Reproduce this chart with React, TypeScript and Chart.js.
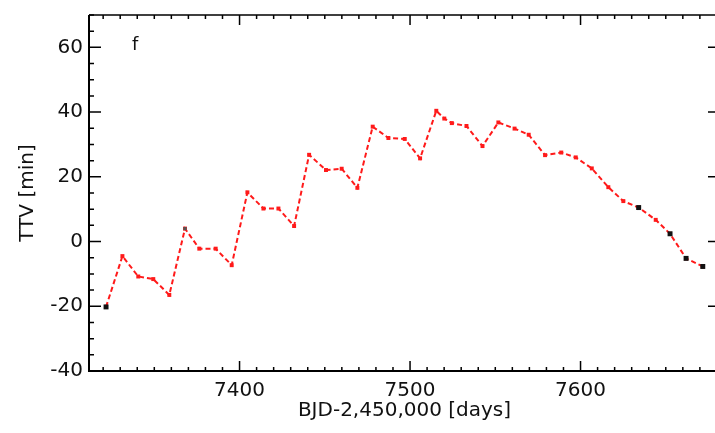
import React, { useEffect, useRef } from "react";
import { Chart, registerables } from "chart.js";

Chart.register(...registerables);

// ---- data ----
const modelDays = [
  7321.7, 7331.3, 7340.6, 7349.4, 7358.8, 7368.0, 7376.4, 7386.0, 7395.4,
  7404.6, 7414.0, 7422.8, 7432.0, 7440.8, 7450.7, 7459.9, 7469.1, 7478.1,
  7487.3, 7496.9, 7505.9, 7515.4, 7520.1, 7524.5, 7533.1, 7542.5, 7551.8,
  7561.3, 7569.6, 7579.2, 7588.7, 7597.2, 7606.6, 7616.3, 7625.1, 7634.1,
  7644.1, 7652.5, 7661.9, 7671.7,
];
const modelTtv = [
  -20.2, -4.5, -10.8, -11.6, -16.5, 4.0, -2.2, -2.2, -7.3,
  15.2, 10.2, 10.2, 4.8, 26.8, 22.1, 22.5, 16.6, 35.5,
  32.0, 31.7, 25.7, 40.4, 38.0, 36.6, 35.7, 29.5, 36.8,
  34.9, 33.0, 26.7, 27.5, 26.0, 22.6, 16.8, 12.5, 10.5,
  6.7, 2.4, -5.2, -7.7,
];
const obsDays = [7321.7, 7368.0, 7634.1, 7652.5, 7661.9, 7671.7];
const obsTtv = [-20.2, 4.0, 10.5, 2.4, -5.2, -7.7];

const xTickValues = [7400, 7500, 7600];
const yTickValues = [-40, -20, 0, 20, 40, 60];
const xMin = 7311.7;
const xMax = 7681.8;
const yMin = -40;
const yMax = 70;
const xTitle = "BJD-2,450,000 [days]";
const yTitle = "TTV [min]";
const panelLabel = "f";

const FONT = "'DejaVu Sans', 'Liberation Sans', Arial, sans-serif";

const framePlugin = {
  id: "idlFrame",
  afterDraw(chart: any) {
    const { ctx, chartArea } = chart;
    const { left, right, top, bottom } = chartArea;
    const xs = chart.scales.x;
    const ys = chart.scales.y;
    ctx.save();
    ctx.strokeStyle = "#000";
    ctx.lineCap = "butt";
    ctx.lineWidth = 1.5;
    for (let v = Math.ceil(xMin / 10) * 10; v <= xMax; v += 10) {
      const px = xs.getPixelForValue(v);
      const major = v % 100 === 0;
      const len = major ? 10 : 4;
      ctx.beginPath();
      ctx.moveTo(px, bottom);
      ctx.lineTo(px, bottom - len);
      ctx.moveTo(px, top);
      ctx.lineTo(px, top + len);
      ctx.stroke();
    }
    for (let v = Math.ceil(yMin / 5) * 5; v <= yMax; v += 5) {
      const py = ys.getPixelForValue(v);
      const major = v % 20 === 0;
      const len = major ? 12 : 5;
      ctx.beginPath();
      ctx.moveTo(left, py);
      ctx.lineTo(left + len, py);
      ctx.moveTo(right, py);
      ctx.lineTo(right - len, py);
      ctx.stroke();
    }
    ctx.lineWidth = 2;
    ctx.beginPath();
    ctx.moveTo(left, top);
    ctx.lineTo(left, bottom);
    ctx.lineTo(right, bottom);
    ctx.stroke();
    ctx.lineWidth = 1.5;
    ctx.beginPath();
    ctx.moveTo(left, top);
    ctx.lineTo(right, top);
    ctx.lineTo(right, bottom);
    ctx.stroke();
    ctx.fillStyle = "#111";
    ctx.font = `18px ${FONT}`;
    ctx.textAlign = "left";
    ctx.textBaseline = "alphabetic";
    ctx.fillText(panelLabel, left + 43, top + 35);
    ctx.restore();
  },
};

export default function App() {
  const ref = useRef<HTMLCanvasElement | null>(null);

  useEffect(() => {
    if (!ref.current) return;
    const chart = new Chart(ref.current, {
      type: "scatter",
      data: {
        datasets: [
          {
            label: "model",
            data: modelDays.map((d, i) => ({ x: d, y: modelTtv[i] })),
            showLine: true,
            borderColor: "#ff1a1a",
            borderWidth: 2,
            borderDash: [5, 3],
            pointStyle: "rect",
            pointRadius: 2.8,
            pointBackgroundColor: "#ff1a1a",
            pointBorderWidth: 0,
            order: 2,
          },
          {
            label: "observed",
            data: obsDays.map((d, i) => ({ x: d, y: obsTtv[i] })),
            showLine: false,
            pointStyle: "rect",
            pointRadius: (c: any) => (c.dataIndex === 1 ? 2.3 : 3.5),
            pointBackgroundColor: (c: any) => (c.dataIndex === 1 ? "#555" : "#111"),
            pointBorderWidth: 0,
            order: 1,
          },
        ],
      },
      options: {
        animation: false,
        responsive: false,
        layout: { autoPadding: false, padding: { top: 15, right: 2, left: 0, bottom: 0 } },
        plugins: {
          legend: { display: false },
          tooltip: { enabled: false },
        },
        scales: {
          x: {
            type: "linear",
            min: xMin,
            max: xMax,
            afterBuildTicks: (s: any) => {
              s.ticks = xTickValues.map((v) => ({ value: v }));
            },
            afterFit: (s: any) => {
              s.height = 62;
              s.paddingLeft = 0;
              s.paddingRight = 0;
            },
            grid: { display: false, drawTicks: false },
            border: { display: false },
            ticks: {
              padding: 8,
              color: "#111",
              font: { family: FONT, size: 20 },
              callback: (v: any) => String(v),
              maxRotation: 0,
            },
            title: {
              display: true,
              text: xTitle,
              color: "#111",
              font: { family: FONT, size: 20 },
              padding: { top: 0, bottom: 10 },
            },
          },
          y: {
            type: "linear",
            min: yMin,
            max: yMax,
            afterBuildTicks: (s: any) => {
              s.ticks = yTickValues.map((v) => ({ value: v }));
            },
            afterFit: (s: any) => {
              s.width = 89;
              s.paddingTop = 0;
              s.paddingBottom = 0;
            },
            grid: { display: false, drawTicks: false },
            border: { display: false },
            ticks: {
              padding: 6,
              color: "#111",
              font: { family: FONT, size: 20 },
              callback: (v: any) => String(v),
            },
            title: {
              display: true,
              text: yTitle,
              color: "#111",
              font: { family: FONT, size: 20 },
              padding: { top: 16, bottom: 0 },
            },
          },
        },
      },
      plugins: [framePlugin],
    });
    return () => chart.destroy();
  }, []);

  return (
    <div
      style={{
        position: "fixed",
        left: 0,
        top: 0,
        width: 715,
        height: 433,
        overflow: "hidden",
        background: "#fff",
      }}
    >
      <canvas ref={ref} width={722} height={433} style={{ display: "block", width: 722, height: 433 }} />
    </div>
  );
}
